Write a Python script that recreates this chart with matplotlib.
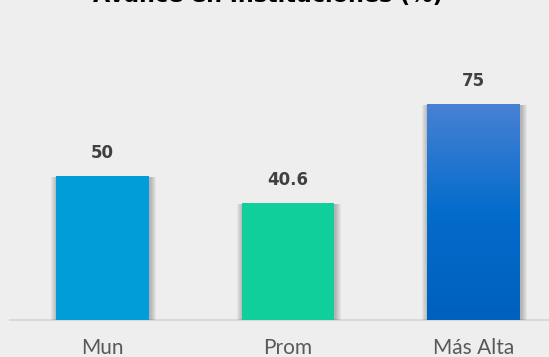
import numpy as np
import matplotlib.pyplot as plt
from matplotlib.patches import Rectangle
from matplotlib.colors import LinearSegmentedColormap

categories = ['Mun', 'Prom', 'Más Alta']
values = [50, 40.6, 75]
value_labels = ['50', '40.6', '75']
colors = ['#009DD9', '#11CF9B', '#0063C2']
title = 'Avance en Instituciones (%)'

bg = '#EEEEEE'
fig = plt.figure(figsize=(5.49, 3.57), dpi=100, facecolor=bg)
ax = fig.add_axes([9.75 / 549, 37 / 357, 556.5 / 549, 316.8 / 357])
ax.set_facecolor(bg)

x = np.arange(len(categories))
width = 0.5
px_x = 1 / 185.5   # data units per pixel
px_y = 1 / 2.88

# soft shadow behind each bar
for xi, v in zip(x, values):
    for k in range(1, 7):
        ax.add_patch(Rectangle((xi - width / 2 - k * px_x + 1 * px_x, -k * px_y - 1 * px_y),
                               width + 2 * k * px_x, v + k * px_y,
                               facecolor='black', edgecolor='none',
                               alpha=0.045, zorder=1))

bars = ax.bar(x, values, width=width, color=colors, zorder=2)

# gradient on the highest bar
grad = LinearSegmentedColormap.from_list('g', ['#0060BE', '#046CCC', '#4781D4'])
b = bars[2]
im = ax.imshow(np.linspace(0, 1, 100).reshape(-1, 1), cmap=grad, origin='lower',
               extent=[b.get_x(), b.get_x() + b.get_width(), 0, b.get_height()],
               aspect='auto', zorder=3)
im.set_clip_path(b)

for xi, v, lab in zip(x, values, value_labels):
    ax.text(xi, v + 23 * px_y, lab, ha='center', va='center', fontsize=12,
            fontweight='bold', color='#404040', zorder=4)

ax.set_xlim(-0.5, 2.5)
ax.set_ylim(0, 110)
ax.set_xticks(x)
ax.set_xticklabels(categories, fontsize=15, color='#595959', family='Lato')
ax.tick_params(axis='x', length=0, pad=13)
ax.set_yticks([])
for s in ['top', 'right', 'left']:
    ax.spines[s].set_visible(False)
ax.spines['bottom'].set_color('#D9D9D9')
ax.spines['bottom'].set_linewidth(1.5)
ax.spines['bottom'].set_zorder(0)

fig.text(0.488, 1 - 2 / 357, title, ha='center', va='baseline', fontsize=16,
         fontweight='bold', color='black')

fig.savefig('out.png', dpi=100, facecolor=bg)
